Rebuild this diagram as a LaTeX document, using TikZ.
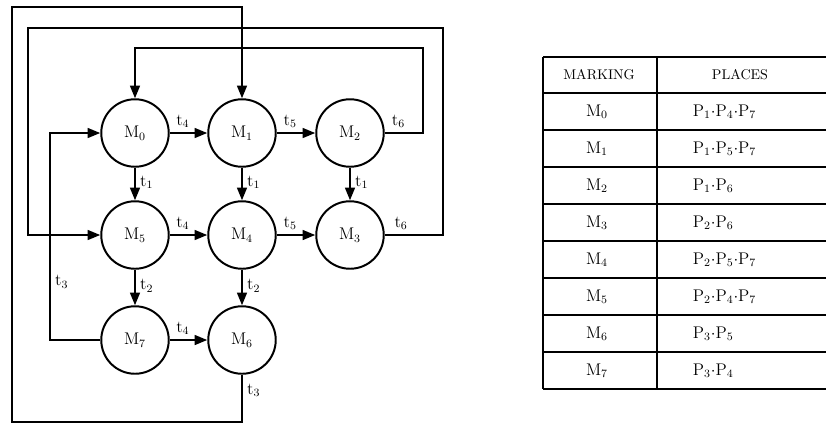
\documentclass[tikz,border=0pt]{standalone}
\usepackage{tikz}
\usetikzlibrary{arrows.meta}
\tikzset{
	marknode/.style={draw,circle,line width=1.4pt,minimum size=48,inner sep=0pt,font=\large},
	flow/.style={line width=1.4pt,-{Triangle[length=9,width=7]}},
	tlab/.style={inner sep=3pt,font=\large}
}
\begin{document}
\begin{tikzpicture}[x=0.025cm,y=-0.025cm]
			\useasboundingbox (0,0) rectangle (826,424);
			% markings
			\node[marknode] (m0) at (135,133) {M$_0$};
			\node[marknode] (m1) at (242,133) {M$_1$};
			\node[marknode] (m2) at (350,133) {M$_2$};
			\node[marknode] (m5) at (135,235) {M$_5$};
			\node[marknode] (m4) at (242,235) {M$_4$};
			\node[marknode] (m3) at (350,235) {M$_3$};
			\node[marknode] (m7) at (135,340) {M$_7$};
			\node[marknode] (m6) at (242,340) {M$_6$};
			\coordinate (bl) at (12,422);
			\coordinate (tl) at (12,7);
			\coordinate (r2) at (443,28);
			\coordinate (l2) at (28,28);
			\coordinate (r3) at (423,48);
			\coordinate (l4) at (50,133);
			% transitions
			\draw[flow] (m0) -- node[tlab,pos=.35,above] {t$_4$} (m1);
			\draw[flow] (m1) -- node[tlab,pos=.35,above] {t$_5$} (m2);
			\draw[flow] (m5) -- node[tlab,pos=.35,above] {t$_4$} (m4);
			\draw[flow] (m4) -- node[tlab,pos=.35,above] {t$_5$} (m3);
			\draw[flow] (m7) -- node[tlab,pos=.35,above] {t$_4$} (m6);
			\draw[flow] (m0) -- node[tlab,pos=.45,right] {t$_1$} (m5);
			\draw[flow] (m1) -- node[tlab,pos=.45,right] {t$_1$} (m4);
			\draw[flow] (m2) -- node[tlab,pos=.45,right] {t$_1$} (m3);
			\draw[flow] (m5) -- node[tlab,pos=.45,right] {t$_2$} (m7);
			\draw[flow] (m4) -- node[tlab,pos=.45,right] {t$_2$} (m6);
			\draw[flow] (m2) -| node[tlab,pos=.18,above] {t$_6$} (r3) -| (m0);
			\draw[flow] (m3) -| node[tlab,pos=.14,above] {t$_6$} (r2) -- (l2) |- (m5);
			\draw[flow] (m7) -| node[tlab,pos=.64,right] {t$_3$} (l4) -- (m0);
			\draw[flow] (m6) -- node[tlab,pos=.33,right] {t$_3$} (m6 |- bl) -- (bl) -- (tl) -| (m1);
			% table
			\draw[line width=1.4pt] (543,57) -- (826,57) (543,57) -- (543,389) (657,57) -- (657,389);
			\foreach \y in {0,...,8}
				\draw[line width=1.4pt] (543,93+37*\y) -- (826,93+37*\y);
			\node (hmark) at (599,75) {MARKING};
			\node (hplace) at (740,75) {PLACES};
			\foreach \p [count=\i from 0] in {{P$_1\cdot$P$_4\cdot$P$_7$},{P$_1\cdot$P$_5\cdot$P$_7$},{P$_1\cdot$P$_6$},{P$_2\cdot$P$_6$},{P$_2\cdot$P$_5\cdot$P$_7$},{P$_2\cdot$P$_4\cdot$P$_7$},{P$_3\cdot$P$_5$},{P$_3\cdot$P$_4$}}{
				\node[font=\large] (mk\i) at (597,111.5+37*\i) {M$_\i$};
				\node[anchor=west,font=\large] (pl\i) at (688,111.5+37*\i) {\p};
			}
\end{tikzpicture}
\end{document}
